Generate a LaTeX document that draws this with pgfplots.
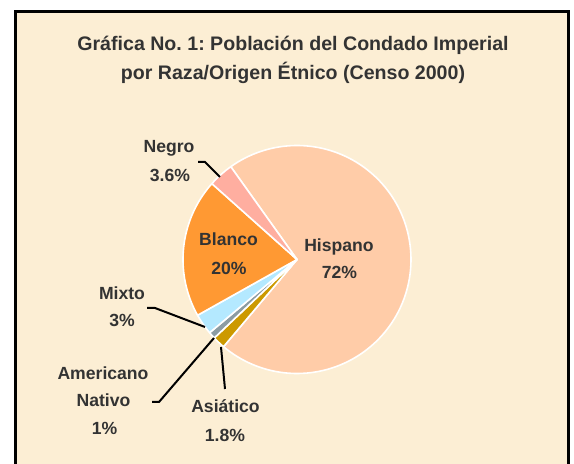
\documentclass[border=0pt]{standalone}
\usepackage{pgfplots}
\pgfplotsset{compat=1.18}
\usepackage{pgfplotstable}
\usepackage{fontspec}
\setmainfont{Liberation Sans}
\frenchspacing

\definecolor{bgcream}{HTML}{FCEED4}
\definecolor{txt}{HTML}{333333}
\definecolor{pie0}{HTML}{FFCCA8} % Hispano
\definecolor{pie1}{HTML}{CC9900} % Asiatico
\definecolor{pie2}{HTML}{8C9CA3} % Americano Nativo
\definecolor{pie3}{HTML}{B4E9FF} % Mixto
\definecolor{pie4}{HTML}{FF9933} % Blanco
\definecolor{pie5}{HTML}{FFAEA0} % Negro

% percentages, clockwise from the first slice
\pgfplotstableread{
name pct
Hispano 72
Asiatico 1.8
AmNativo 1
Mixto 3
Blanco 20
Negro 3.6
}\piedata

% angles of the slices (normalised, as the labels sum to 101.4)
\xdef\pietotal{0}
\foreach \i in {0,...,5}{%
  \pgfplotstablegetelem{\i}{pct}\of\piedata
  \pgfmathsetmacro\tmp{\pietotal+\pgfplotsretval}%
  \xdef\pietotal{\tmp}}
\xdef\pieacc{125.5}
\foreach \i in {0,...,5}{%
  \pgfplotstablegetelem{\i}{pct}\of\piedata
  \pgfmathsetmacro\tmp{\pieacc-(\pgfplotsretval/\pietotal)*360}%
  \expandafter\xdef\csname pieS\i\endcsname{\pieacc}%
  \expandafter\xdef\csname pieE\i\endcsname{\tmp}%
  \xdef\pieacc{\tmp}}

\newcommand\cx{297}
\newcommand\cy{204.5}
\newcommand\rr{114}

\begin{document}
\begin{tikzpicture}
\begin{axis}[
    width=574pt, height=464pt, scale only axis,
    xmin=0, xmax=574, ymin=0, ymax=464,
    axis lines=none, clip=true,
]
% page and frame
\fill[white] (axis cs:0,0) rectangle (axis cs:574,464);
\fill[bgcream] (axis cs:15.3,-10) rectangle (axis cs:568.7,452.7);
\draw[black, line width=2.7pt] (axis cs:15.3,-10) -- (axis cs:15.3,452.7)
    -- (axis cs:568.7,452.7) -- (axis cs:568.7,-10);

% slices
\pgfplotsinvokeforeach{0,...,5}{
  \addplot[fill=pie#1, draw=white, line width=1.6pt, line join=round,
      domain={\csname pieE#1\endcsname}:{\csname pieS#1\endcsname}, samples=120]
      ({\cx+\rr*cos(x)}, {\cy+\rr*sin(x)}) -- (axis cs:\cx,\cy) -- cycle;
}

% leader lines
\draw[black, line width=2pt] (axis cs:198,302) -- (axis cs:205,302) -- (axis cs:220,287);
\draw[black, line width=2pt] (axis cs:147,156) -- (axis cs:155,156) -- (axis cs:205,137);
\draw[black, line width=2pt] (axis cs:152,62) -- (axis cs:159,62) -- (axis cs:214,126);
\draw[black, line width=2pt] (axis cs:221,117) -- (axis cs:225,75);

% title
\begin{scope}[every node/.style={anchor=base, text=txt, inner sep=0pt,
    font=\fontsize{19.6}{24}\selectfont\bfseries}]
\node at (axis cs:293,413) {Gráfica No. 1: Población del Condado Imperial};
\node at (axis cs:293,384) {por Raza/Origen Étnico (Censo 2000)};
\end{scope}

% slice labels
\begin{scope}[every node/.style={anchor=base, text=txt, inner sep=0pt,
    font=\fontsize{17.6}{22}\selectfont\bfseries}]
\node at (axis cs:169,311) {Negro};
\node at (axis cs:170,282) {3.6\%};
\node at (axis cs:339,212.3) {Hispano};
\node at (axis cs:339.5,185) {72\%};
\node at (axis cs:228.5,218) {Blanco};
\node at (axis cs:229,189) {20\%};
\node at (axis cs:122,164) {Mixto};
\node at (axis cs:122,137) {3\%};
\node at (axis cs:103,84) {Americano};
\node at (axis cs:103.5,57) {Nativo};
\node at (axis cs:104.5,29) {1\%};
\node at (axis cs:225.5,51) {Asiático};
\node at (axis cs:225,22) {1.8\%};
\end{scope}
\end{axis}
\end{tikzpicture}
\end{document}
